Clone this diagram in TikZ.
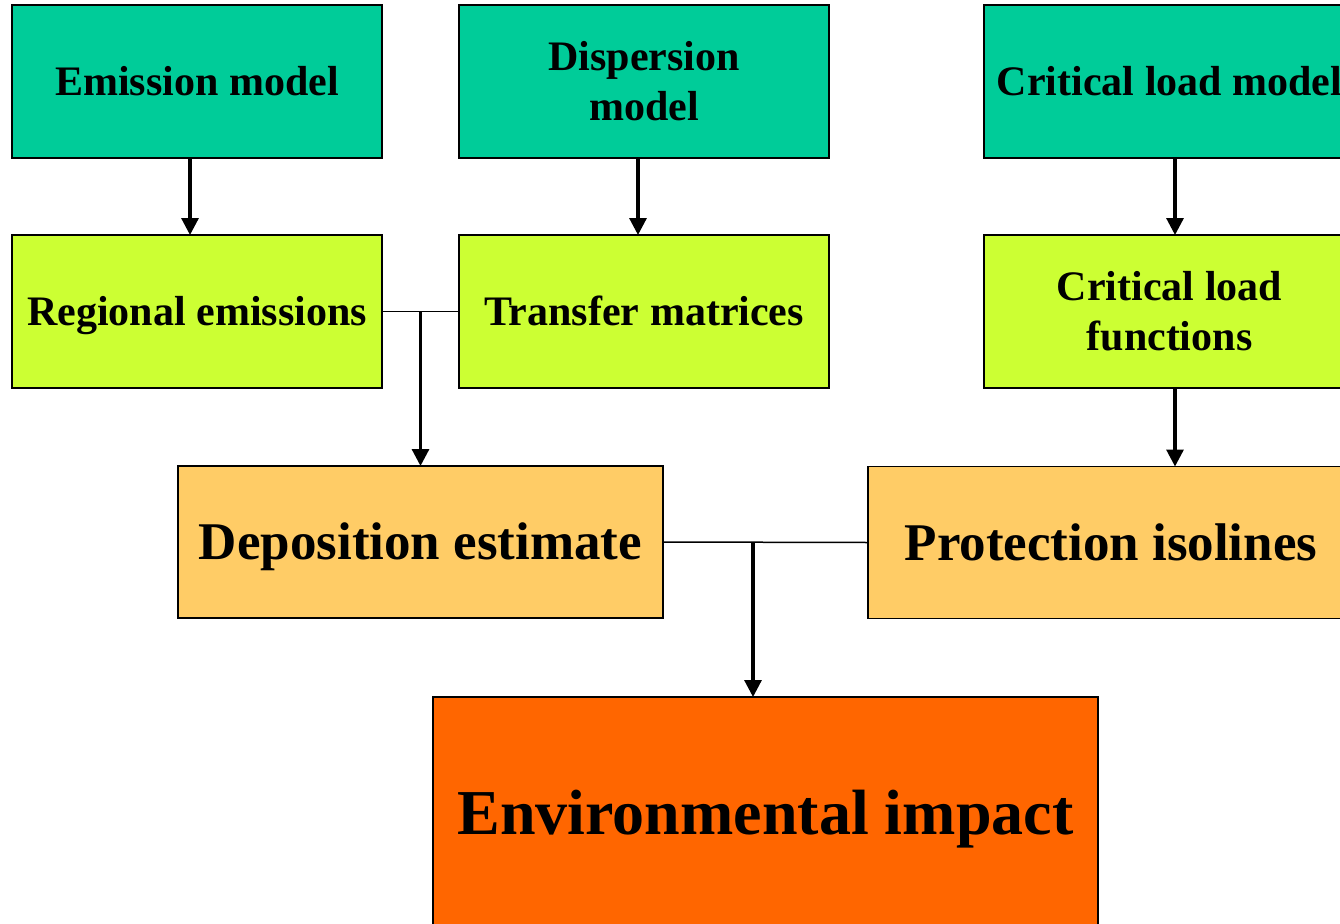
\documentclass[tikz,border=0pt]{standalone}
\usepackage{fontspec}
\setmainfont{Liberation Serif}
\usetikzlibrary{arrows.meta}
\definecolor{cteal}{HTML}{00CC99}
\definecolor{clime}{HTML}{CCFF33}
\definecolor{cpeach}{HTML}{FFCC66}
\definecolor{corange}{HTML}{FF6600}
\tikzset{
  box/.style={draw=black, line width=1.5pt, rectangle, inner sep=0pt, outer sep=0pt,
    align=center, font=\bfseries\fontsize{42}{50}\selectfont, text=black,
    text height=27.8pt, text depth=0pt},
  twoline/.style={text height=77.8pt, text depth=0pt},
  smallbox/.style={box, minimum width=370pt, minimum height=153pt},
  modelbox/.style={smallbox, fill=cteal},
  databox/.style={smallbox, fill=clime},
  midbox/.style={box, fill=cpeach, minimum width=486pt, minimum height=152pt,
    font=\bfseries\fontsize{53}{60}\selectfont, text height=35pt},
  bigbox/.style={box, fill=corange, minimum width=665pt, minimum height=232pt,
    font=\bfseries\fontsize{64}{72}\selectfont, text height=42.4pt},
  arr/.style={line width=3.2pt, -{Triangle[length=17pt,width=17pt]}},
  joinline/.style={line width=1.5pt}
}
\begin{document}
\begin{tikzpicture}[x=1pt, y=-1pt]
\useasboundingbox (0,0) rectangle (1340,923);
\clip (0,0) rectangle (1340,923);
\fill[white] (0,0) rectangle (1340,923);

\node[modelbox] (em) at (197,81.5) {Emission model};
\node[modelbox, twoline] (disp) at (644,81.5) {Dispersion\\model};
\node[modelbox, minimum width=371pt] (clm) at (1169.5,81.5) {Critical load model};

\node[databox] (reg) at (197,311.5) {Regional emissions};
\node[databox] (tm) at (644,311.5) {Transfer matrices};
\node[databox, twoline, minimum width=371pt] (clf) at (1169.5,311.5) {Critical load\\functions};

\node[midbox, minimum width=485pt] (dep) at (420.5,542) {Deposition estimate};
\node[midbox] (prot) at (1111,542.5) {Protection isolines};

\node[bigbox] (env) at (765.5,813) {Environmental impact};

\draw[arr] ([xshift=-7pt]em.south) -- ([xshift=-7pt]reg.north);
\draw[arr] ([xshift=-6pt]disp.south) -- ([xshift=-6pt]tm.north);
\draw[arr] ([xshift=5.5pt]clm.south) -- ([xshift=5.5pt]clf.north);
\draw[arr] ([xshift=5.5pt]clf.south) -- ([xshift=5.5pt]clf.south |- prot.north);

\draw[joinline] (reg.east) -- (tm.west);
\coordinate (j1) at (dep.north |- reg.east);
\draw[arr] (j1) -- (dep.north);

\draw[joinline] (dep.east) -- (prot.west);
\coordinate (j2) at ([xshift=-12.5pt]env.north |- dep.east);
\draw[arr] (j2) -- ([xshift=-12.5pt]env.north);
\end{tikzpicture}
\end{document}
